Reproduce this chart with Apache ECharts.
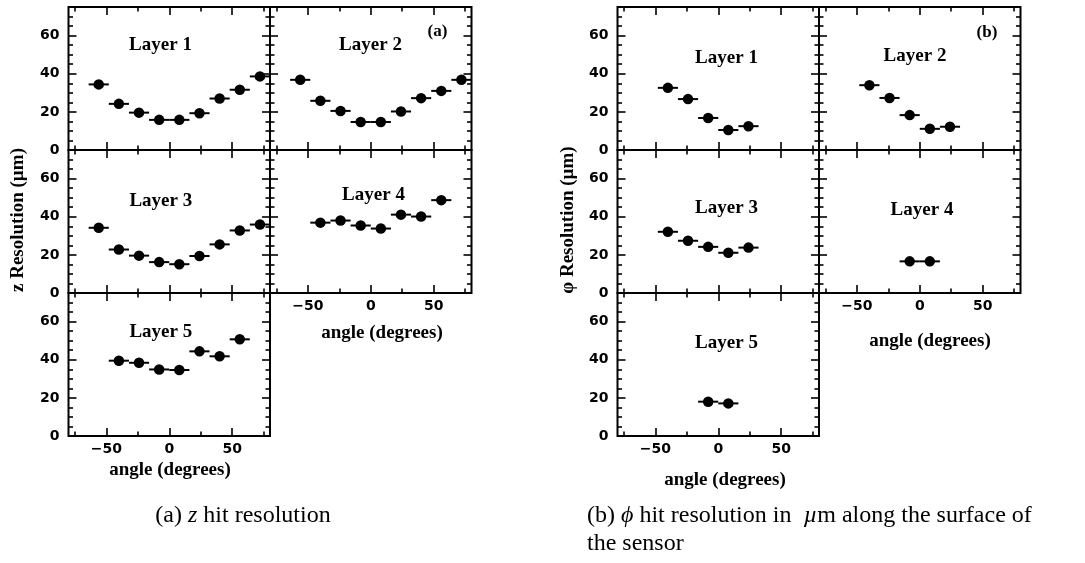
<!DOCTYPE html>
<html><head><meta charset="utf-8">
<script src="https://cdn.jsdelivr.net/npm/echarts@6/dist/echarts.min.js"></script>
<style>html,body{margin:0;padding:0;background:#fff}#c{width:1085px;height:563px}</style>
</head><body><div id="c"></div>
<script>
// ---- data ----
const anglesZ9 = [-56, -40, -24, -8, 8, 24, 40, 56, 72];
const anglesZ7 = [-40, -24, -8, 8, 24, 40, 56];
const anglesPhi5 = [-40, -24, -8, 8, 24];
const anglesPhi2 = [-8, 8];
const angleHalfWidth = 8; // bin half-width (degrees), drawn as horizontal error bar

const zLayer1 = [34.4, 24.2, 19.6, 15.8, 15.8, 19.3, 27.0, 31.6, 38.6];
const zLayer2 = [36.8, 25.8, 20.5, 14.7, 14.7, 20.2, 27.2, 31.0, 36.8];
const zLayer3 = [34.2, 22.8, 19.6, 16.2, 15.1, 19.4, 25.5, 32.8, 35.9];
const zLayer4 = [36.9, 38.0, 35.4, 33.8, 41.1, 40.1, 48.7];
const zLayer5 = [39.5, 38.4, 34.9, 34.6, 44.4, 41.8, 50.7];

const phiLayer1 = [32.6, 26.7, 16.8, 10.5, 12.5];
const phiLayer2 = [34.0, 27.3, 18.3, 11.1, 12.2];
const phiLayer3 = [32.1, 27.4, 24.2, 21.1, 23.8];
const phiLayer4 = [16.6, 16.6];
const phiLayer5 = [18.0, 17.1];

const xTickMajor = [-50, 0, 50];
const xTickMinor = [-75, -25, 25, 75];
const yTickMajor = [0, 20, 40, 60];
const yTickMinor = [5, 10, 15, 25, 30, 35, 45, 50, 55, 65, 70];
const xRange = [-80, 80];
const yRange = [0, 75];

const layerTitles = ['Layer 1', 'Layer 2', 'Layer 3', 'Layer 4', 'Layer 5'];
const yNameZ = 'z Resolution (\u00b5m)';
const yNamePhi = '\u03c6 Resolution (\u00b5m)';
const xName = 'angle (degrees)';

// ---- layout ----
const colLefts = { a: [68.5, 270], b: [617.5, 819] };
const colW = 201.5;
const rowTops = [7, 150, 293];
const rowH = 143;

const panels = [
  { fig: 'a', layer: 0, row: 0, col: 0, xs: anglesZ9, ys: zLayer1, tx: 160.5, ty: 45 },
  { fig: 'a', layer: 1, row: 0, col: 1, xs: anglesZ9, ys: zLayer2, tx: 370.5, ty: 45 },
  { fig: 'a', layer: 2, row: 1, col: 0, xs: anglesZ9, ys: zLayer3, tx: 160.8, ty: 201.5 },
  { fig: 'a', layer: 3, row: 1, col: 1, xs: anglesZ7, ys: zLayer4, tx: 373.5, ty: 195, xlab: true, xnx: 382, xny: 333 },
  { fig: 'a', layer: 4, row: 2, col: 0, xs: anglesZ7, ys: zLayer5, tx: 160.8, ty: 332.5, xlab: true, xnx: 170, xny: 470 },
  { fig: 'b', layer: 0, row: 0, col: 0, xs: anglesPhi5, ys: phiLayer1, tx: 726.5, ty: 58 },
  { fig: 'b', layer: 1, row: 0, col: 1, xs: anglesPhi5, ys: phiLayer2, tx: 915, ty: 56.5 },
  { fig: 'b', layer: 2, row: 1, col: 0, xs: anglesPhi5, ys: phiLayer3, tx: 726.5, ty: 208 },
  { fig: 'b', layer: 3, row: 1, col: 1, xs: anglesPhi2, ys: phiLayer4, tx: 922, ty: 210.5, xlab: true, xnx: 930, xny: 341 },
  { fig: 'b', layer: 4, row: 2, col: 0, xs: anglesPhi2, ys: phiLayer5, tx: 726.5, ty: 343, xlab: true, xnx: 725, xny: 480 }
];

const labelFont = { fontFamily: 'DejaVu Sans', fontWeight: 'bold', fontSize: 14, color: '#000' };
const fmt = v => (v < 0 ? '\u2212' + Math.abs(v) : String(v));

const grid = [], xAxis = [], yAxis = [], series = [], graphic = [];

function mkX(gi, pos, ticks, len, labels) {
  xAxis.push({
    type: 'value', gridIndex: gi, position: pos, min: xRange[0], max: xRange[1],
    axisLine: { show: false, onZero: false }, splitLine: { show: false },
    axisTick: { show: true, inside: true, length: len, customValues: ticks, lineStyle: { color: '#000', width: 1.6 } },
    axisLabel: labels ? Object.assign({ show: true, customValues: xTickMajor, margin: 6, formatter: fmt }, labelFont) : { show: false }
  });
  return xAxis.length - 1;
}
function mkY(gi, pos, ticks, len, labels) {
  yAxis.push({
    type: 'value', gridIndex: gi, position: pos, min: yRange[0], max: yRange[1],
    axisLine: { show: false, onZero: false }, splitLine: { show: false },
    axisTick: { show: true, inside: true, length: len, customValues: ticks, lineStyle: { color: '#000', width: 1.6 } },
    axisLabel: labels ? Object.assign({ show: true, customValues: yTickMajor, margin: 9, formatter: fmt }, labelFont) : { show: false }
  });
  return yAxis.length - 1;
}

panels.forEach((p, gi) => {
  grid.push({
    left: colLefts[p.fig][p.col], top: rowTops[p.row], width: colW, height: rowH,
    show: true, borderColor: '#000', borderWidth: 2, backgroundColor: 'transparent'
  });
  const xi = mkX(gi, 'bottom', xTickMajor, 8, !!p.xlab);
  mkX(gi, 'bottom', xTickMinor, 4.5, false);
  mkX(gi, 'top', xTickMajor, 8, false);
  mkX(gi, 'top', xTickMinor, 4.5, false);
  const yi = mkY(gi, 'left', yTickMajor, 8, p.col === 0);
  mkY(gi, 'left', yTickMinor, 4.5, false);
  mkY(gi, 'right', yTickMajor, 8, false);
  mkY(gi, 'right', yTickMinor, 4.5, false);

  const pts = p.xs.map((x, i) => [x, p.ys[i], angleHalfWidth]);
  series.push({
    type: 'custom', xAxisIndex: xi, yAxisIndex: yi, data: pts, silent: true,
    encode: { x: 0, y: 1 },
    renderItem: (params, api) => {
      const x = api.value(0), y = api.value(1), e = api.value(2);
      const a = api.coord([x - e, y]), b = api.coord([x + e, y]);
      return { type: 'line', shape: { x1: a[0], y1: a[1], x2: b[0], y2: b[1] }, style: { stroke: '#000', lineWidth: 2 } };
    }
  });
  series.push({
    type: 'scatter', xAxisIndex: xi, yAxisIndex: yi, data: pts.map(d => [d[0], d[1]]),
    symbol: 'circle', symbolSize: 10.5, itemStyle: { color: '#000', opacity: 1 }, silent: true
  });

  graphic.push({ type: 'text', x: p.tx, y: p.ty, silent: true,
    style: { text: layerTitles[p.layer], font: 'bold 19px "Liberation Serif"', fill: '#000', align: 'center', verticalAlign: 'middle' } });
  if (p.xlab) {
    graphic.push({ type: 'text', x: p.xnx, y: p.xny, silent: true,
      style: { text: xName, font: 'bold 19px "Liberation Serif"', fill: '#000', align: 'center', verticalAlign: 'middle' } });
  }
});

// figure tags
graphic.push({ type: 'text', x: 437.5, y: 32, silent: true,
  style: { text: '(a)', font: 'bold 17px "Liberation Serif"', fill: '#000', align: 'center', verticalAlign: 'middle' } });
graphic.push({ type: 'text', x: 987, y: 33, silent: true,
  style: { text: '(b)', font: 'bold 17px "Liberation Serif"', fill: '#000', align: 'center', verticalAlign: 'middle' } });
// y axis names
graphic.push({ type: 'text', x: 18, y: 220, rotation: Math.PI / 2, silent: true,
  style: { text: yNameZ, font: 'bold 19px "Liberation Serif"', fill: '#000', align: 'center', verticalAlign: 'middle' } });
graphic.push({ type: 'text', x: 568, y: 220, rotation: Math.PI / 2, silent: true,
  style: { text: yNamePhi, font: 'bold 19px "Liberation Serif"', fill: '#000', align: 'center', verticalAlign: 'middle' } });
// captions
const capFont = '24px "Liberation Serif"';
const capItalic = 'italic 24px "Liberation Serif"';
graphic.push({ type: 'text', x: 243, y: 516, silent: true,
  style: { text: '(a) {i|z} hit resolution', font: capFont, fill: '#000', align: 'center', verticalAlign: 'middle',
    rich: { i: { font: capItalic, fill: '#000' } } } });
graphic.push({ type: 'text', x: 587, y: 516, silent: true,
  style: { text: '(b) {i|\u03d5} hit resolution in  {i|\u00b5}m along the surface of', font: capFont, fill: '#000', align: 'left', verticalAlign: 'middle',
    rich: { i: { font: capItalic, fill: '#000' } } } });
graphic.push({ type: 'text', x: 587, y: 544, silent: true,
  style: { text: 'the sensor', font: capFont, fill: '#000', align: 'left', verticalAlign: 'middle' } });

const chart = echarts.init(document.getElementById('c'), null, { renderer: 'canvas' });
chart.setOption({ animation: false, backgroundColor: '#fff', grid, xAxis, yAxis, series, graphic });
</script></body></html>
